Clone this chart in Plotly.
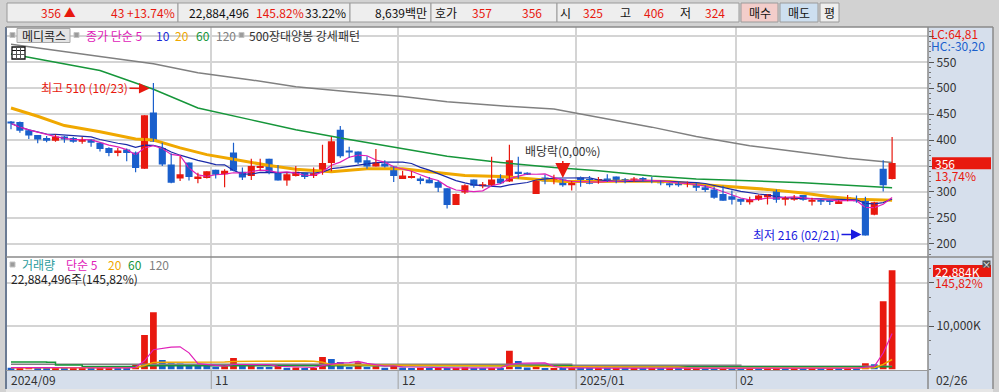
import plotly.graph_objects as go
import pandas as pd

# ---------------- data ----------------
month_labels = ["2024/09", "11", "12", "2025/01", "02"]
month_start = [0, 23, 44, 64, 82]
last_date_label = "02/26"

opens = [436,435,419,410,404,399,407,404,397,401,
         395,385,375,382,376,345,453,385,353,326,
         357,325,327,343,334,376,339,331,347,364,
         338,322,331,337,331,341,356,420,380,378,
         361,349,355,349,325,327,326,324,319,307,
         275,299,324,311,313,326,320,339,337,296,
         328,319,324,313,328,325,320,326,330,324,
         322,327,323,322,317,318,315,318,309,305,
         296,292,287,280,285,290,305,285,285,294,
         281,285,284,277,283,287,285,256,345,325]
highs = [437,436,420,410,408,411,408,406,406,401,
         395,386,385,384,378,448,510,395,374,369,
         357,337,340,343,344,395,347,364,364,364,
         352,337,350,337,347,391,406,427,387,378,
         369,383,361,349,341,340,330,329,322,307,
         297,315,324,319,368,334,391,368,338,323,
         333,333,325,321,330,331,329,334,330,327,
         329,329,329,322,317,320,320,318,313,310,
         312,303,287,291,295,296,305,292,294,294,
         289,286,284,284,294,293,291,281,361,406]
lows = [421,414,402,394,396,397,395,395,393,387,
        378,369,369,359,338,345,397,350,317,321,
        322,317,326,326,309,340,323,323,342,334,
        322,312,330,325,327,333,340,366,366,354,
        345,349,347,319,325,326,315,317,300,268,
        275,296,308,307,312,316,319,326,333,296,
        315,315,310,303,310,315,316,319,317,317,
        319,320,317,313,309,310,309,302,300,287,
        283,276,275,276,283,276,279,274,283,283,
        274,275,275,277,282,279,216,255,301,324]
closes = [432,418,409,401,399,407,401,397,402,395,
          383,375,380,375,346,448,397,353,318,334,
          329,330,340,333,341,341,328,350,350,337,
          322,334,339,329,336,356,398,369,376,357,
          349,357,349,331,332,331,323,317,308,275,
          296,313,312,315,324,317,361,336,334,323,
          320,326,313,320,321,316,325,321,322,322,
          326,322,320,317,313,313,319,308,304,289,
          283,285,281,286,293,296,285,289,289,285,
          285,281,281,282,290,282,216,280,313,356]
volumes_k = [380,450,470,300,280,420,300,400,450,300,
             350,400,300,250,1000,7900,13200,2160,1400,1350,
             850,840,820,600,700,2600,850,860,540,520,
             770,380,420,230,300,2850,2400,1700,540,1600,
             540,700,380,850,400,300,350,250,400,300,
             350,450,300,250,300,280,4260,1900,400,540,
             250,320,250,300,280,250,300,220,250,230,
             260,240,250,220,240,230,260,300,280,250,
             320,250,220,260,230,270,300,250,260,230,
             240,230,250,240,280,260,1400,1160,15693.386,22884.496]

# moving averages (need history before the first candle)
ma20_idx = [0,3,6,10,14,16,19,22,25,29,32,36,40,44,47,51,55,59,62,66,70,74,77,81,85,89,92,95,99]
ma20_val = [462,446,428,416,402,400,385,372,363,351,344,339,345,345,339,332,330,324,320,320,321,320,315,310,305,298,291,286,284]
ma60_idx = [0,4,10,16,21,27,32,38,44,49,55,61,66,72,77,83,89,94,99]
ma60_val = [566,553,534,498,462,439,420,401,384,369,357,347,341,331,325,321,318,313,308]
ma120_idx = [0,4,10,16,21,27,32,38,44,49,55,61,66,72,77,83,89,94,99]
ma120_val = [585,575,561,547,530,516,503,493,484,474,466,460,444,425,407,389,376,365,357]
vma60_idx = [0,4,5,8,15,62,63,99]
vma60_k = [1700,1650,1000,620,800,800,560,560]
vma120_idx = [0,62,63,81,82,99]
vma120_k = [1150,1150,930,930,700,700]

price_ticks = [200,250,300,350,400,450,500,550,600]
price_tick_text = ["200","250","300","","400","450","500","550",""]
vol_ticks = [10000000, 20000000]
vol_tick_text = ["10,000K", ""]

# ---------------- geometry ----------------
W, H = 999, 392
X0, X1 = 6.5, 928.0
PY0, PY1 = 27.0, 257.0
VY0, VY1 = 257.0, 370.0
FIRST, SLOT = 11.0, 8.9

def fx(p):
    return p / W

def fy(p):
    return 1 - p / H

xr = [(X0 - FIRST) / SLOT, (X1 - FIRST) / SLOT]

RED = "#e8190f"
BLUE = "#1a5fcc"
GRID = "#d4d4d4"
PANEL = "#d6dfec"
MAG = "#e020b8"
NAVY = "#1a2aa8"
ORANGE = "#f0a800"
GREEN = "#16963a"
GRAY = "#808080"

n = len(closes)
idx = list(range(n))
cs = pd.Series(closes, dtype=float)
ma5 = cs.rolling(5, min_periods=1).mean()
ma10 = cs.rolling(10, min_periods=1).mean()
vol = pd.Series(volumes_k, dtype=float) * 1000
vma5 = vol.rolling(5, min_periods=1).mean()
vma20 = vol.rolling(20, min_periods=1).mean()

fig = go.Figure()

# price moving averages
fig.add_trace(go.Scatter(x=ma120_idx, y=ma120_val, mode="lines", line=dict(color=GRAY, width=1.5), xaxis="x", yaxis="y"))
fig.add_trace(go.Scatter(x=ma60_idx, y=ma60_val, mode="lines", line=dict(color=GREEN, width=1.5), xaxis="x", yaxis="y"))
fig.add_trace(go.Scatter(x=ma20_idx, y=ma20_val, mode="lines", line=dict(color=ORANGE, width=3), xaxis="x", yaxis="y"))
fig.add_trace(go.Scatter(x=idx, y=ma10, mode="lines", line=dict(color=NAVY, width=1.2), xaxis="x", yaxis="y"))
fig.add_trace(go.Scatter(x=idx, y=ma5, mode="lines", line=dict(color=MAG, width=1.2), xaxis="x", yaxis="y"))

# candles
up = [c >= o for o, c in zip(opens, closes)]
for color, flag in ((RED, True), (BLUE, False)):
    xs, ys = [], []
    for i in idx:
        if up[i] == flag:
            xs += [i, i, None]
            ys += [lows[i], highs[i], None]
    fig.add_trace(go.Scatter(x=xs, y=ys, mode="lines", line=dict(color=color, width=1.2),
                             xaxis="x", yaxis="y"))
body_base = [min(o, c) for o, c in zip(opens, closes)]
body_h = [max(abs(c - o), 2.2) for o, c in zip(opens, closes)]
fig.add_trace(go.Bar(x=idx, y=body_h, base=body_base, width=0.8,
                     marker=dict(color=[RED if u else BLUE for u in up], line=dict(width=0)),
                     xaxis="x", yaxis="y"))

# volume bars
vcol = [BLUE] + [RED if volumes_k[i] >= volumes_k[i - 1] else BLUE for i in range(1, n)]
fig.add_trace(go.Bar(x=idx, y=vol, width=0.76, marker=dict(color=vcol, line=dict(width=0)),
                     xaxis="x2", yaxis="y2"))
fig.add_trace(go.Scatter(x=vma120_idx, y=[v * 1000 for v in vma120_k], mode="lines", line_shape="hv",
                         line=dict(color=GRAY, width=1.5), xaxis="x2", yaxis="y2"))
fig.add_trace(go.Scatter(x=vma60_idx, y=[v * 1000 for v in vma60_k], mode="lines", line_shape="hv",
                         line=dict(color=GREEN, width=1.5), xaxis="x2", yaxis="y2"))
fig.add_trace(go.Scatter(x=idx, y=vma20, mode="lines", line=dict(color=ORANGE, width=1.5),
                         xaxis="x2", yaxis="y2"))
fig.add_trace(go.Scatter(x=idx, y=vma5, mode="lines", line=dict(color=MAG, width=1.2),
                         xaxis="x2", yaxis="y2"))

grid_x = [m - 0.5 for m in month_start[1:]]
axis_common = dict(showgrid=True, gridcolor=GRID, gridwidth=2, zeroline=False)
fig.update_layout(
    width=W, height=H, margin=dict(l=0, r=0, t=0, b=0),
    paper_bgcolor="#d2d2d2", plot_bgcolor="white", showlegend=False, barmode="overlay",
    font=dict(family="Noto Sans CJK KR, sans-serif", size=12, color="#333333"),
    xaxis=dict(domain=[fx(X0), fx(X1)], range=xr, tickvals=grid_x, showticklabels=False,
               ticks="", anchor="y", **axis_common),
    xaxis2=dict(domain=[fx(X0), fx(X1)], range=xr, tickvals=grid_x, showticklabels=False,
                ticks="", anchor="y2", matches="x", **axis_common),
    yaxis=dict(domain=[fy(PY1), fy(PY0)], range=[174.64, 618.06], side="right", anchor="x",
               tickvals=price_ticks, ticktext=price_tick_text,
               ticks="outside", ticklen=5, tickcolor="#555555",
               tickfont=dict(size=12, color="#333333"),
               minor=dict(dtick=10, ticks="outside", ticklen=2, tickcolor="#777777", showgrid=False),
               **axis_common),
    yaxis2=dict(domain=[fy(VY1), fy(VY0)], range=[-162000, 25941000], side="right", anchor="x2",
                tickvals=vol_ticks, ticktext=vol_tick_text, ticks="outside", ticklen=5,
                tickcolor="#555555", tickfont=dict(size=12, color="#333333"),
                minor=dict(dtick=10000000 / 3, ticks="outside", ticklen=2, tickcolor="#777777",
                           showgrid=False),
                **axis_common),
)

shapes = []
ann = []

def rect(x0, y0, x1, y1, fill, line=None, lw=1, layer="below"):
    shapes.append(dict(type="rect", xref="paper", yref="paper", x0=fx(x0), x1=fx(x1),
                       y0=fy(y1), y1=fy(y0), fillcolor=fill,
                       line=dict(color=line or fill, width=lw if line else 0), layer=layer))

def hline(x0, x1, y, color, w=1, layer="above"):
    shapes.append(dict(type="line", xref="paper", yref="paper", x0=fx(x0), x1=fx(x1),
                       y0=fy(y), y1=fy(y), line=dict(color=color, width=w), layer=layer))

def vline(x, y0, y1, color, w=1, layer="above"):
    shapes.append(dict(type="line", xref="paper", yref="paper", x0=fx(x), x1=fx(x),
                       y0=fy(y0), y1=fy(y1), line=dict(color=color, width=w), layer=layer))

def text(x, y, s, color="#333333", anchor="left", size=12):
    ann.append(dict(xref="paper", yref="paper", x=fx(x), y=fy(y), text=s, showarrow=False,
                    xanchor=anchor, yanchor="middle", borderpad=0,
                    font=dict(color=color, size=size, family="Noto Sans CJK KR, sans-serif")))

# ---- header ----
for (a, b) in [(7, 178), (178, 350), (350, 431), (431, 557), (557, 739)]:
    rect(a, 3, b, 22, "#eeeeee", "#9a9a9a", 1)
rect(741, 3, 778, 22, "#f3cdca", "#9a9a9a", 1)
rect(780, 3, 818, 22, "#cddff0", "#9a9a9a", 1)
rect(820, 3, 839, 22, "#eeeeee", "#9a9a9a", 1)
hy = 12.5
text(77, hy, "356 ▲", RED, "right")
text(176, hy, "43 +13.74%", RED, "right")
text(188, hy, "22,884,496", "#111111")
text(305, hy, "145.82%", RED, "right")
text(347, hy, "33.22%", "#111111", "right")
text(428, hy, "8,639백만", "#111111", "right")
text(434, hy, "호가", "#111111")
text(493, hy, "357", RED, "right")
text(543, hy, "356", RED, "right")
text(559, hy, "시", "#111111")
text(604, hy, "325", RED, "right")
text(619, hy, "고", "#111111")
text(665, hy, "406", RED, "right")
text(679, hy, "저", "#111111")
text(726, hy, "324", RED, "right")
text(759.5, hy, "매수", "#111111", "center")
text(799, hy, "매도", "#111111", "center")
text(829.5, hy, "평", "#111111", "center")

# ---- right panel & date band ----
rect(928, 27, 993, 370, PANEL)
rect(6, 370, 993, 389, PANEL)
rect(6, 389, 993, 392, "#e6e6e6")
vline(928, 27, 389, "#8a8a8a", 1.5)
vline(993, 27, 389, "#8a8a8a", 1.5)
vline(6, 27, 389, "#6b7b93", 2)
hline(6, 993, 27, "#8a8a8a", 1.5)
hline(6, 993, 257, "#8a8a8a", 1.5)
hline(6, 928, 370.5, "#9a9a9a", 1)
for g in grid_x:
    shapes.append(dict(type="line", xref="x", yref="paper", x0=g, x1=g, y0=fy(389), y1=fy(370),
                       line=dict(color="#a0a0a0", width=1), layer="above"))

dy = 379
starts = [-0.5] + grid_x
for lab, s in zip(month_labels, starts):
    ann.append(dict(xref="x", yref="paper", x=s, y=fy(dy), text=lab, showarrow=False, xanchor="left",
                    yanchor="middle", xshift=2, font=dict(color="#333333", size=12)))
text(935, dy, last_date_label, "#333333")

# right panel texts
text(930, 33.5, "LC:64,81", RED)
text(930, 45.5, "HC:-30,20", BLUE)
rect(932, 157.3, 991, 169.3, RED, layer="above")
text(934, 163.5, "356", "white")
text(934, 175.5, "13,74%", RED)
rect(933, 265, 991, 277, RED, layer="above")
text(934, 271, "22,884K", "white")
text(934, 282.5, "145,82%", RED)
rect(982.5, 260.5, 990.5, 267.5, "#555555", layer="above")
text(986.5, 264, "×", "white", "center", size=9)

# ---- price legend ----
def sq(x, y):
    rect(x, y - 2.5, x + 5, y + 2.5, "#9c9c9c", "#c4c4c4", 1, layer="above")

ly = 35
sq(10, ly)
rect(17, 28.5, 70, 42.5, "#e4e4e4", "#a8a8a8", 1, layer="above")
text(43.5, ly, "메디콕스", "#222222", "center")
sq(74, ly)
text(85, ly, "종가 단순 5", MAG)
text(155, ly, "10", "#1a2ad8")
text(174, ly, "20", ORANGE)
text(195, ly, "60", GREEN)
text(215, ly, "120", GRAY)
sq(239, ly)
text(248, ly, "500장대양봉 강세패턴", "#333333")

# table icon
rect(12, 47, 25, 59, "white", "#111111", 1.3, layer="above")
hline(12, 25, 50.5, "#111111", 1)
vline(16.5, 47, 59, "#555555", 1)
vline(20.5, 47, 59, "#555555", 1)
hline(12, 25, 54.5, "#555555", 1)

# ---- volume legend ----
vy = 264.5
sq(10, vy)
text(21, vy, "거래량", "#2a9c9c")
text(65, vy, "단순 5", MAG)
text(107, vy, "20", ORANGE)
text(127, vy, "60", GREEN)
text(148, vy, "120", GRAY)
text(10, 278, "22,884,496주(145,82%)", "#222222")

# ---- chart annotations ----
def idx_at(pxv):
    return (pxv - FIRST) / SLOT

ann.append(dict(xref="x", yref="y", x=idx_at(149.5), y=499.5, text="최고 510 (10/23)",
                showarrow=True, ax=-65, ay=-1, arrowhead=2, arrowsize=1.4, arrowwidth=1.5,
                arrowcolor=RED, standoff=0, font=dict(color=RED, size=12)))
ann.append(dict(xref="x", yref="y", x=idx_at(861.5), y=218, text="최저 216 (02/21)",
                showarrow=True, ax=-65, ay=0, arrowhead=2, arrowsize=1.4, arrowwidth=1.5,
                arrowcolor="#1a1ae0", standoff=0, font=dict(color="#1a1ae0", size=12)))
ann.append(dict(xref="x", yref="y", x=62, y=327, text="배당락(0,00%)",
                showarrow=True, ax=0, ay=-27, arrowhead=2, arrowsize=2, arrowwidth=1.5,
                arrowcolor=RED, standoff=0, font=dict(color="#333333", size=12)))

fig.update_layout(shapes=shapes, annotations=ann)
fig.write_html("out.html", config={"displayModeBar": False},
               post_script="document.body.style.margin='0';document.body.style.overflow='hidden';")
